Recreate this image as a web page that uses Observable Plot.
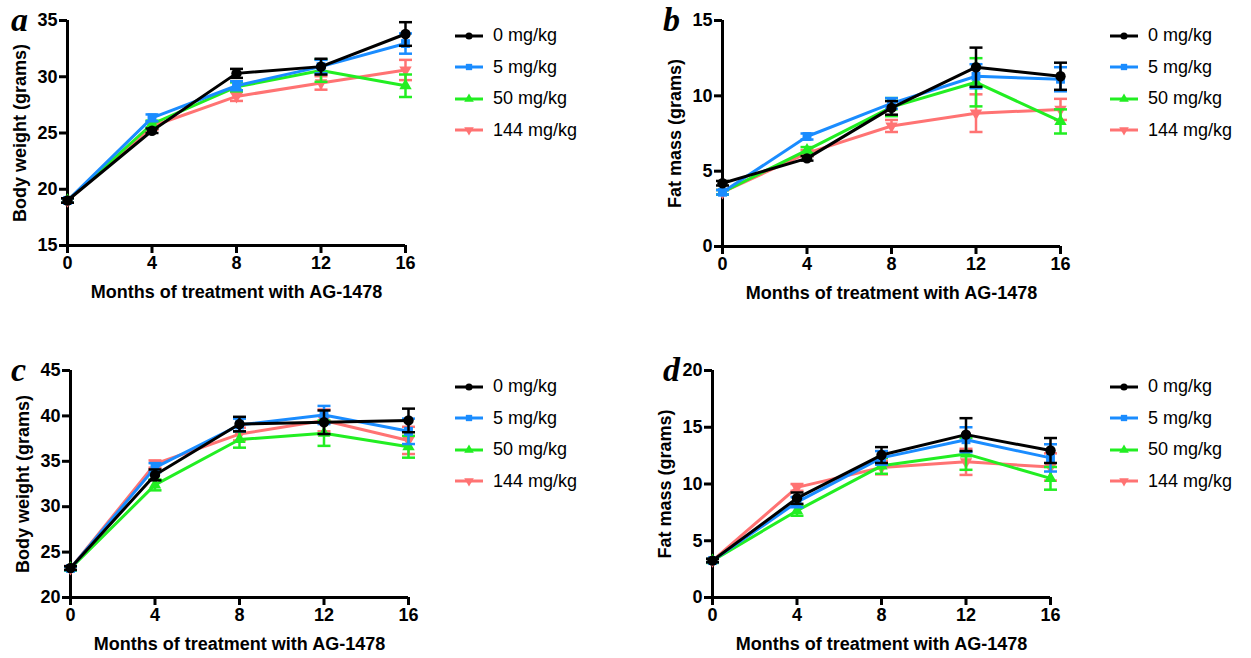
<!DOCTYPE html>
<html><head><meta charset="utf-8">
<script src="https://cdn.jsdelivr.net/npm/d3@7"></script>
<script src="https://cdn.jsdelivr.net/npm/@observablehq/plot@0.6"></script>
<style>
body{margin:0;background:#fff;width:1251px;height:658px;position:relative;overflow:hidden;font-family:"Liberation Sans",Arial,sans-serif;}
.panel{position:absolute;}
.letter{position:absolute;font-family:"Liberation Serif","DejaVu Serif",serif;font-weight:bold;font-style:italic;font-size:34px;line-height:1;}
.legend{position:absolute;font-size:18px;color:#000;}
.legend .row{display:flex;align-items:center;height:31.5px;}
.legend svg{margin-right:10px;}
</style></head><body>
<script>
const months = [0, 4, 8, 12, 16];
const doses = ["0 mg/kg", "5 mg/kg", "50 mg/kg", "144 mg/kg"];
const colors = ["#000000", "#1a8cff", "#22ee22", "#ff7373"];
const xTickLabels = [0, 4, 8, 12, 16];
const xLabel = "Months of treatment with AG-1478";

// Panel a: body weight
const aMean = [[19.0,25.2,30.3,30.9,33.8],[19.0,26.35,29.2,30.9,32.95],[19.0,25.8,29.1,30.55,29.2],[19.0,25.6,28.25,29.45,30.6]];
const aErr  = [[0.2,0.2,0.4,0.7,1.05],[0.2,0.3,0.4,0.6,0.9],[0.2,0.3,0.4,1.0,1.0],[0.2,0.3,0.4,0.6,0.9]];
const aTicks = [15,20,25,30,35];
// Panel b: fat mass
const bMean = [[4.2,5.85,9.2,11.9,11.3],[3.6,7.3,9.5,11.3,11.1],[3.6,6.4,9.25,10.9,8.3],[3.6,6.2,8.0,8.85,9.1]];
const bErr  = [[0.15,0.15,0.45,1.3,0.9],[0.15,0.2,0.35,0.8,0.8],[0.15,0.2,0.6,1.6,0.8],[0.15,0.2,0.4,1.25,0.7]];
const bTicks = [0,5,10,15];
// Panel c: body weight
const cMean = [[23.25,33.5,39.1,39.3,39.5],[23.2,34.3,39.0,40.1,38.3],[23.2,32.4,37.4,38.1,36.6],[23.2,34.7,38.0,39.5,37.3]];
const cErr  = [[0.2,0.6,0.8,1.3,1.3],[0.2,0.5,0.7,1.0,1.4],[0.2,0.6,0.9,1.4,1.2],[0.2,0.4,0.7,1.2,1.5]];
const cTicks = [20,25,30,35,40,45];
// Panel d: fat mass
const dMean = [[3.25,8.75,12.55,14.35,12.95],[3.25,8.4,12.3,13.9,12.3],[3.25,7.65,11.6,12.65,10.5],[3.25,9.7,11.45,11.95,11.5]];
const dErr  = [[0.15,0.5,0.7,1.45,1.1],[0.15,0.45,0.6,1.1,1.2],[0.15,0.45,0.7,1.4,1.0],[0.15,0.3,0.6,1.15,1.2]];
const dTicks = [0,5,10,15,20];

const capSymbol = {draw(ctx, size){ const r = Math.sqrt(size/Math.PI); ctx.moveTo(-r,0); ctx.lineTo(r,0); }};
const triDown = {draw(ctx, size){ const y = -Math.sqrt(size/(Math.sqrt(3)*3)); ctx.moveTo(0,-y*2); ctx.lineTo(-Math.sqrt(3)*y,y); ctx.lineTo(Math.sqrt(3)*y,y); ctx.closePath(); }};
const symbols = ["circle", "square", "triangle", triDown];
const symR = [5.2, 5, 4.6, 4.6];

function panel(cfg){
  const rows = [];
  cfg.mean.forEach((s,i)=>s.forEach((v,j)=>rows.push({series:i, month:months[j], mean:v, lo:v-cfg.err[i][j], hi:v+cfg.err[i][j]})));
  const marks = [];
  for (const i of [3,2,1,0]) {
    const d = rows.filter(r=>r.series===i);
    const c = colors[i];
    marks.push(
      Plot.line(d,{x:"month",y:"mean",stroke:c,strokeWidth:3}),
      Plot.ruleX(d,{x:"month",y1:"lo",y2:"hi",stroke:c,strokeWidth:2.5}),
      Plot.dot(d,{x:"month",y:"hi",symbol:capSymbol,r:6.5,stroke:c,strokeWidth:2.5,fill:"none"}),
      Plot.dot(d,{x:"month",y:"lo",symbol:capSymbol,r:6.5,stroke:c,strokeWidth:2.5,fill:"none"}),
      Plot.dot(d,{x:"month",y:"mean",symbol:symbols[i],r:symR[i],fill:c,stroke:"none"})
    );
  }
  const plot = Plot.plot({
    width: cfg.width, height: cfg.height,
    marginLeft: cfg.ml, marginRight: cfg.mr, marginTop: cfg.mt, marginBottom: cfg.mb,
    style:{fontFamily:'"Liberation Sans",Arial,sans-serif', fontSize:"18px", fontWeight:"bold", color:"#000", background:"transparent", overflow:"visible"},
    x:{domain:[0,16]},
    y:{domain:[cfg.ticks[0], cfg.ticks[cfg.ticks.length-1]]},
    marks:[
      Plot.axisX({ticks:xTickLabels, tickSize:8, strokeWidth:3, tickPadding:3, label:xLabel, labelAnchor:"center", labelArrow:"none", labelOffset:52, fontSize:18}),
      Plot.axisY({ticks:cfg.ticks, tickSize:8, strokeWidth:3, tickPadding:2, label:cfg.ylabel, labelAnchor:"center", labelArrow:"none", labelOffset:cfg.lo, fontSize:18}),
      Plot.ruleX([0],{strokeWidth:3}),
      Plot.ruleY([cfg.ticks[0]],{strokeWidth:3}),
      ...marks
    ]
  });
  const div = document.createElement("div");
  div.className = "panel";
  div.style.left = cfg.left+"px"; div.style.top = cfg.top+"px";
  div.appendChild(plot);
  document.body.appendChild(div);

  const L = document.createElement("div");
  L.className = "letter"; L.textContent = cfg.letter;
  L.style.left = cfg.letterX+"px"; L.style.top = cfg.letterY+"px";
  document.body.appendChild(L);

  const leg = document.createElement("div");
  leg.className = "legend";
  leg.style.left = cfg.legX+"px"; leg.style.top = cfg.legY+"px";
  doses.forEach((name,i)=>{
    const row = document.createElement("div"); row.className="row";
    const svg = d3.create("svg").attr("width",28).attr("height",14);
    svg.append("line").attr("x1",0).attr("x2",28).attr("y1",7).attr("y2",7).attr("stroke",colors[i]).attr("stroke-width",3);
    const sym = symbols[i]==="circle"?d3.symbolCircle:symbols[i]==="square"?d3.symbolSquare:symbols[i]==="triangle"?d3.symbolTriangle:triDown;
    svg.append("path").attr("transform","translate(14,7)").attr("d",d3.symbol(sym, 40)()).attr("fill",colors[i]);
    row.appendChild(svg.node());
    const t = document.createElement("span"); t.textContent = name; row.appendChild(t);
    leg.appendChild(row);
  });
  document.body.appendChild(leg);
}

panel({mean:aMean, err:aErr, ticks:aTicks, ylabel:"Body weight (grams)", left:0, top:0, width:430, height:310, ml:67, mr:25, mt:20, mb:65, lo:54, letter:"a", letterX:11, letterY:3, legX:455, legY:20});
panel({mean:bMean, err:bErr, ticks:bTicks, ylabel:"Fat mass (grams)", left:640, top:0, width:440, height:310, ml:82, mr:20, mt:20, mb:64, lo:54, letter:"b", letterX:663, letterY:3, legX:1110, legY:20});
panel({mean:cMean, err:cErr, ticks:cTicks, ylabel:"Body weight (grams)", left:0, top:350, width:430, height:308, ml:70, mr:22, mt:20, mb:61, lo:54, letter:"c", letterX:11, letterY:353, legX:455, legY:371});
panel({mean:dMean, err:dErr, ticks:dTicks, ylabel:"Fat mass (grams)", left:640, top:350, width:440, height:308, ml:72, mr:30, mt:20, mb:61, lo:54, letter:"d", letterX:663, letterY:353, legX:1110, legY:371});
</script>
</body></html>
